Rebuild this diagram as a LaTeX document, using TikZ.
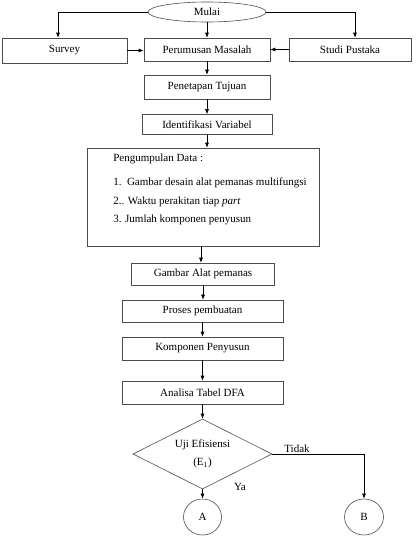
\documentclass[tikz,border=0pt]{standalone}
\usepackage{fontspec}
\setmainfont{Liberation Serif}
\usepackage{tikz}
\usetikzlibrary{arrows.meta}
\usetikzlibrary{shapes.geometric}
\tikzset{>={Latex[length=5pt,width=4pt]}}

\begin{document}
\begin{tikzpicture}[x=1pt,y=-1pt,line width=0.6pt,font=\fontsize{11}{13}\selectfont,
  box/.style = {draw=black!70, rectangle, inner sep=0pt, minimum height=23pt},
  term/.style = {draw=black!70, ellipse, inner sep=0pt},
  decision/.style = {draw=black!70, diamond, aspect=2, inner sep=0pt, align=center}]
\useasboundingbox (0,0) rectangle (416,536);
    % baris atas
    \node[term,minimum width=118pt,minimum height=20pt] (mulai) at (207,12) {Mulai};
    \node[box,minimum width=125pt,minimum height=25pt] (survey) at (64.5,50.5) {Survey};
    \node[box,minimum width=126pt] (perumusan) at (207,49.5) {Perumusan Masalah};
    \node[box,minimum width=122pt] (studi) at (350,49.5) {Studi Pustaka};
    \node[box,minimum width=126pt,minimum height=24pt] (penetapan) at (207,87) {Penetapan Tujuan};
    \node[box,minimum width=130pt,minimum height=20pt] (identifikasi) at (207,124.5) {Identifikasi Variabel};
    % pengumpulan data
    \node[box,minimum width=232pt,minimum height=98pt] (data) at (203,197) {};
    \node[anchor=base west,inner sep=0pt] (judul) at (113,161) {Pengumpulan Data :};
    \node[anchor=base west,inner sep=0pt] (item1) at (113,185) {1.\ \ Gambar desain alat pemanas multifungsi};
    \node[anchor=base west,inner sep=0pt] (item2) at (113,204) {2.. Waktu perakitan tiap \textit{part}};
    \node[anchor=base west,inner sep=0pt] (item3) at (113,222) {3. Jumlah komponen penyusun};
    % proses
    \node[box,minimum width=143pt,minimum height=22pt] (gambar) at (203,274) {Gambar Alat pemanas};
    \node[box,minimum width=161pt,minimum height=22pt] (proses) at (202.5,311) {Proses pembuatan};
    \node[box,minimum width=161pt] (komponen) at (202.5,348.5) {Komponen Penyusun};
    \node[box,minimum width=161pt] (analisa) at (202.5,392.5) {Analisa Tabel DFA};
    \node[decision,minimum width=139pt,minimum height=70pt] (uji) at (202.5,454) {Uji Efisiensi\\[5pt](E\textsubscript{1})};
    \node[term,minimum width=38pt,minimum height=36pt] (A) at (202.5,517) {A};
    \node[term,minimum width=39pt,minimum height=36pt] (B) at (364,517) {B};
    \node (tidak) at (297,449) {Tidak};
    \node (ya) at (240,487) {Ya};
    % panah
    \draw[->] (mulai.west) -| ([xshift=-6.5pt]survey.north);
    \draw[->] (mulai.east) -| ([xshift=5pt]studi.north);
    \draw[->] (mulai) to (perumusan);
    \draw[->] (survey.east) to (survey.east -| perumusan.west);
    \draw[->] (studi.west) to (studi.west -| perumusan.east);
    \draw[->] (perumusan) to (penetapan);
    \draw[->] (penetapan) to (identifikasi);
    \draw[->] (identifikasi) to (identifikasi |- data.north);
    \draw[->] ([xshift=-2pt]data.south) to ([xshift=-2pt]data.south |- gambar.north);
    \draw[->] (gambar) to (gambar |- proses.north);
    \draw[->] (proses) to (komponen);
    \draw[->] (komponen) to (analisa);
    \draw[->] (analisa) to (uji);
    \draw[->] (uji) to (A);
    \draw[->] (uji.east) -| (B.north);
\end{tikzpicture}
\end{document}
